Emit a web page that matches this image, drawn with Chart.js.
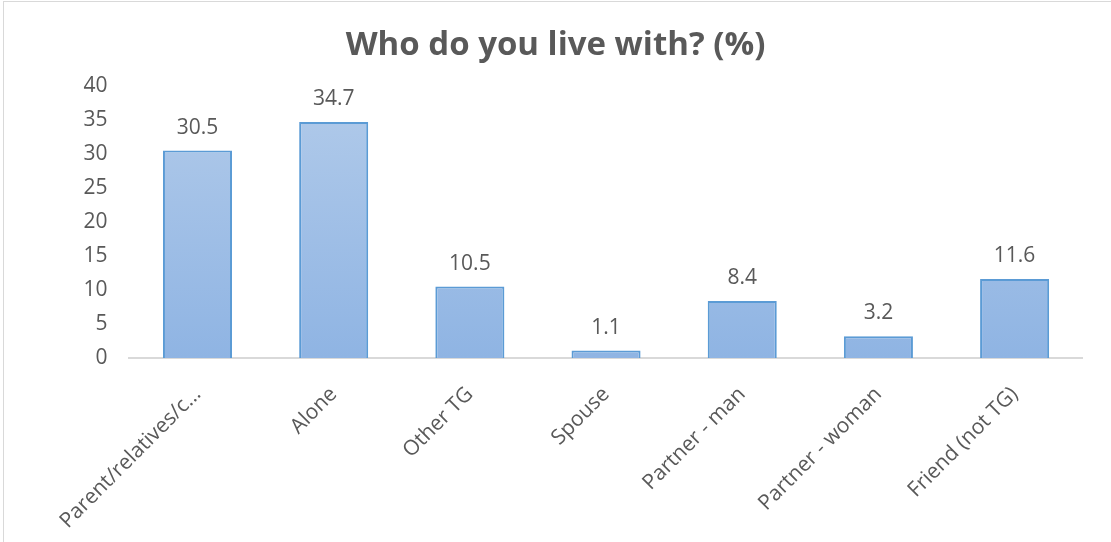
<!DOCTYPE html>
<html>
<head>
<meta charset="utf-8">
<script src="https://cdn.jsdelivr.net/npm/chart.js@4/dist/chart.umd.min.js"></script>
<style>
  html, body { margin: 0; padding: 0; background: #ffffff; }
  #wrap { position: relative; width: 1111px; height: 542px; overflow: hidden; }
  #frame { position: absolute; left: 3px; top: 1px; width: 1120px; height: 560px; border: 1px solid #d9d9d9; box-sizing: border-box; }
  canvas { position: absolute; left: 0; top: 0; }
</style>
</head>
<body>
<div id="wrap">
  <div id="frame"></div>
  <canvas id="c" width="1111" height="542"></canvas>
</div>
<script>
const categories = ["Parent/relatives/c…", "Alone", "Other TG", "Spouse", "Partner - man", "Partner - woman", "Friend (not TG)"];
const values = [30.5, 34.7, 10.5, 1.1, 8.4, 3.2, 11.6];
const titleText = "Who do you live with? (%)";
const yMin = 0, yMax = 40, yStep = 5;

const FONT = "'Open Sans', sans-serif";
const TEXT = "#595959";

const valueLabels = {
  id: "valueLabels",
  afterDatasetsDraw(chart) {
    const ctx = chart.ctx;
    const meta = chart.getDatasetMeta(0);
    ctx.save();
    ctx.font = "21px " + FONT;
    ctx.fillStyle = TEXT;
    ctx.textAlign = "center";
    ctx.textBaseline = "alphabetic";
    meta.data.forEach((bar, i) => {
      ctx.fillText(values[i].toFixed(1), bar.x, bar.y - 17);
    });
    ctx.restore();
  }
};

function grad(context) {
  const chart = context.chart;
  const area = chart.chartArea;
  if (!area) return "#a4c2e8";
  const g = chart.ctx.createLinearGradient(0, area.top, 0, area.bottom);
  g.addColorStop(0, "#b2cbea");
  g.addColorStop(1, "#8fb4e3");
  return g;
}

new Chart(document.getElementById("c"), {
  type: "bar",
  data: {
    labels: categories,
    datasets: [{
      data: values,
      backgroundColor: grad,
      borderColor: "#5b9bd5",
      borderWidth: 2,
      borderSkipped: "bottom",
      barPercentage: 0.507,
      categoryPercentage: 1.0
    }]
  },
  options: {
    responsive: false,
    animation: false,
    devicePixelRatio: 1,
    layout: { padding: { left: 28.3, right: 28.3, top: 0, bottom: 0 } },
    plugins: {
      legend: { display: false },
      tooltip: { enabled: false },
      title: {
        display: true,
        text: titleText,
        color: TEXT,
        font: { family: FONT, size: 33, weight: "bold", lineHeight: 1.2 },
        padding: { top: 26, bottom: 20.4 }
      }
    },
    scales: {
      x: {
        afterFit(scale) { scale.height = 184; },
        grid: { display: false, drawTicks: false },
        border: { display: true, color: "#d9d9d9", width: 2 },
        ticks: {
          color: TEXT,
          font: { family: FONT, size: 21 },
          minRotation: 45,
          maxRotation: 45,
          autoSkip: false,
          padding: 24,
          labelOffset: 0
        }
      },
      y: {
        afterFit(scale) { scale.width = 101.1; },
        min: yMin,
        max: yMax,
        grid: { display: false, drawTicks: false },
        border: { display: false },
        ticks: {
          stepSize: yStep,
          color: TEXT,
          font: { family: FONT, size: 21 },
          padding: 22
        }
      }
    }
  },
  plugins: [valueLabels]
});
</script>
</body>
</html>
